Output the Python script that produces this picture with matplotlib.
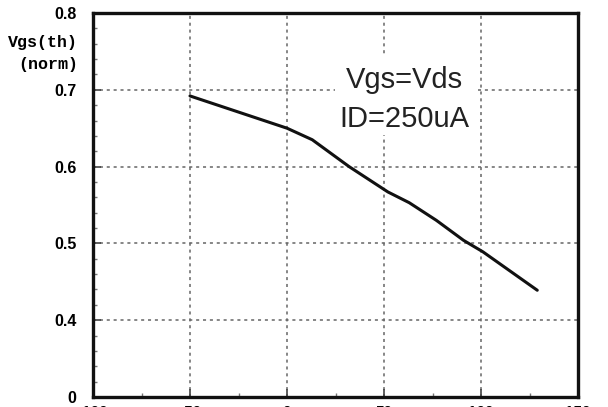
import matplotlib
matplotlib.use("Agg")
import matplotlib.pyplot as plt
from matplotlib.ticker import MultipleLocator
from matplotlib.patches import Rectangle

# Data
temp_c = [-50, 0, 13, 32, 52, 63, 77, 91, 101, 129]
vgs_th_norm = [0.692, 0.650, 0.635, 0.600, 0.567, 0.553, 0.530, 0.504, 0.489, 0.439]

x_ticks = [-100, -50, 0, 50, 100, 150]
x_tick_labels = ["-100", "-50", "0", "50", "100", "150"]
y_ticks = [0.3, 0.4, 0.5, 0.6, 0.7, 0.8]
y_tick_labels = ["0", "0.4", "0.5", "0.6", "0.7", "0.8"]

fig = plt.figure(figsize=(6.08, 4.07), dpi=100)
ax = fig.add_axes([93/608, 10/407, (578-93)/608, (397-13)/407])

ax.plot(temp_c, vgs_th_norm, color="#111111", lw=2.2, solid_capstyle="round", zorder=3)

ax.set_xlim(-100, 150)
ax.set_ylim(0.3, 0.8)
ax.set_xticks(x_ticks)
ax.set_xticklabels(x_tick_labels, fontsize=11, fontweight="bold", family="Liberation Sans")
ax.set_yticks(y_ticks)
ax.set_yticklabels(y_tick_labels, fontsize=11.5, fontweight="bold", family="Liberation Sans")
ax.xaxis.set_minor_locator(MultipleLocator(25))
ax.yaxis.set_minor_locator(MultipleLocator(0.02))

ax.tick_params(axis="both", which="major", direction="in", length=6, width=1.2, color="#444444")
ax.tick_params(axis="x", which="major", pad=6)
ax.tick_params(axis="y", which="major", pad=12)
ax.tick_params(axis="both", which="minor", direction="in", length=3, width=1, color="#777777")

ax.grid(True, which="major", color="#666666", lw=1.1, linestyle=(0, (2, 2.5)))
ax.set_axisbelow(True)
for s in ax.spines.values():
    s.set_linewidth(2.4)
    s.set_color("#111111")

fig.text(78/608, 1 - 43/407, "Vgs(th)", ha="right", va="center",
         fontsize=12, fontweight="bold", family="Liberation Mono")
fig.text(78/608, 1 - 65/407, "(norm)", ha="right", va="center",
         fontsize=12, fontweight="bold", family="Liberation Mono")

# white area behind the annotation
ax.add_patch(Rectangle((0.499, 0.682), 0.295, 0.209, transform=ax.transAxes,
                       facecolor="white", edgecolor="none", zorder=2))
ax.text(0.643, 0.805, "Vgs=Vds", transform=ax.transAxes, ha="center", va="baseline",
        fontsize=21, family="Liberation Sans", color="#222222", zorder=4)
ax.text(0.641, 0.703, "ID=250uA", transform=ax.transAxes, ha="center", va="baseline",
        fontsize=21, family="Liberation Sans", color="#222222", zorder=4)

fig.savefig("out.png", dpi=100)
